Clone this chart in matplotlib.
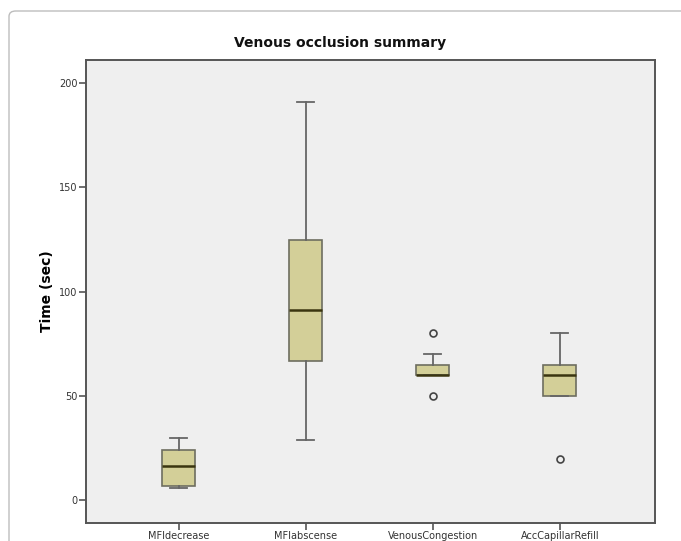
#!/usr/bin/env python3
"""
Venous occlusion summary – boxplot (SPSS-style) recreation.
Saída: out.png
"""

import matplotlib.pyplot as plt
from matplotlib.patches import FancyBboxPatch

# ---------------------------------------------------------------------------
# Dados
# ---------------------------------------------------------------------------
categories = ['MFIdecrease', 'MFIabscense', 'VenousCongestion', 'AccCapillarRefill']
whisker_low = [6, 29, 60, 50]
q1 = [7, 67, 60, 50]
median = [16.5, 91, 60, 60]
q3 = [24, 125, 65, 65]
whisker_high = [30, 191, 70, 80]
outliers = [[], [], [50, 80], [20]]

yticks = [0, 50, 100, 150, 200]

BOX_FILL = '#D3CF98'
BOX_EDGE = '#6E6E60'
MEDIAN_C = '#3A3510'
WHISK_C = '#666666'
PANEL_BG = '#EFEFEF'

plt.rcParams.update({
    'font.family': 'DejaVu Sans',
})

fig = plt.figure(figsize=(6.81, 5.41), dpi=100)
fig.patch.set_facecolor('white')

# moldura externa arredondada
frame = FancyBboxPatch((9 / 681, -0.2), 1.2, 1.2 - 11 / 541,
                       boxstyle='round,pad=0,rounding_size=0.01',
                       transform=fig.transFigure, facecolor='white',
                       edgecolor='#BDBDBD', linewidth=1.0, zorder=-10)
fig.patches.append(frame)

ax = fig.add_axes([86 / 681, 1 - 523 / 541, (655 - 86) / 681, (523 - 60) / 541])
ax.set_zorder(5)
ax.set_facecolor(PANEL_BG)

stats = []
for i, name in enumerate(categories):
    stats.append({
        'label': name,
        'whislo': whisker_low[i],
        'q1': q1[i],
        'med': median[i],
        'q3': q3[i],
        'whishi': whisker_high[i],
        'fliers': outliers[i],
    })

positions = list(range(1, len(categories) + 1))
ax.bxp(stats, positions=positions, widths=0.26, patch_artist=True,
       showfliers=True,
       boxprops=dict(facecolor=BOX_FILL, edgecolor=BOX_EDGE, linewidth=1.2),
       medianprops=dict(color=MEDIAN_C, linewidth=1.8),
       whiskerprops=dict(color=WHISK_C, linewidth=1.3),
       capprops=dict(color=WHISK_C, linewidth=1.3),
       capwidths=0.13,
       flierprops=dict(marker='o', markersize=5, markerfacecolor='none',
                       markeredgecolor='#444444', markeredgewidth=1.2))

ax.set_xlim(0.27, 4.75)
ax.set_ylim(-10.8, 211)
ax.set_yticks(yticks)
ax.set_yticklabels([str(v) for v in yticks])
ax.set_xticks(positions)
ax.set_xticklabels(categories)

for s in ax.spines.values():
    s.set_color('#555555')
    s.set_linewidth(1.4)

ax.tick_params(axis='both', direction='out', length=5, width=1.2,
               color='#555555', labelsize=7, labelcolor='#333333', pad=1)

ax.set_ylabel('Time (sec)', fontsize=10, fontweight='bold', labelpad=4)
fig.text(0.5, 1 - 43 / 541, 'Venous occlusion summary', ha='center', va='center',
         fontsize=10, fontweight='bold', color='#111111')

fig.savefig('out.png', dpi=100)
